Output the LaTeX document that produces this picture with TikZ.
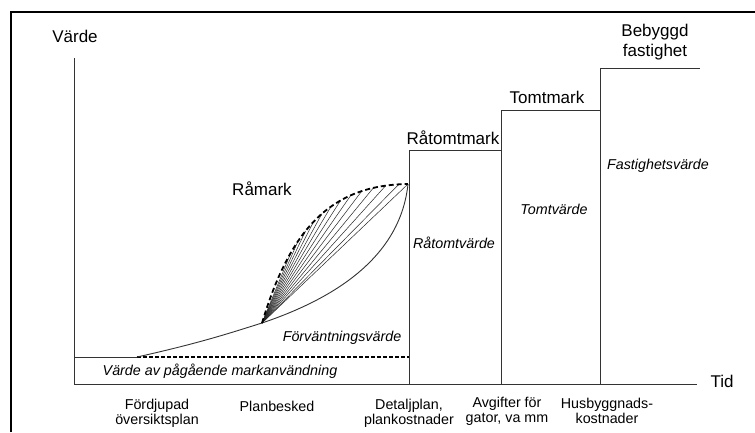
\documentclass[tikz,border=0pt]{standalone}
\usepackage{fontspec}
\setmainfont{Liberation Sans}
\usepackage{tikz}
\usetikzlibrary{calc}
\tikzset{
  stage/.style={inner sep=0pt, align=center, font=\fontsize{17}{20}\selectfont},
  event/.style={inner sep=0pt, align=center, font=\fontsize{14.3}{15}\selectfont},
  worth/.style={inner sep=0pt, font=\fontsize{14.3}{16}\selectfont\itshape},
  thinline/.style={line width=0.9pt, color=black!80},
}

\begin{document}
\begin{tikzpicture}[x=1pt, y=-1pt]
		%%%%% START %%%%%
		\useasboundingbox (0, 0) rectangle (755, 432);
		\fill[white] (0, 0) rectangle (755, 432);
		
		\draw[line width=1.8pt] (11, 432) -- (11, 12) -- (755, 12);
		
		\coordinate (o) at (262, 323);
		\coordinate (a) at (408, 184);
		\coordinate (s) at (137, 357);
		
		\draw[thinline] (74, 58) -- (74, 384) -- (697, 384);
		\draw[thinline] (74, 357) -- (s);
		\draw[line width=1.6pt, dash pattern=on 4pt off 2pt] (s) -- (409, 357);
		
		\draw[thinline] (409, 384) -- (409, 150) -- (501, 150);
		\draw[thinline] (501, 384) -- (501, 110) -- (600, 110);
		\draw[thinline] (600, 384) -- (600, 68) -- (700, 68);
		
		\draw[thinline] (s) .. controls (200, 343) and (230, 333) .. (o);
		\draw[thinline] (o) .. controls (330, 300) and (400, 260) .. (a);
		
		\foreach \p in {0.3,0.36,0.42,0.48,0.54,0.6,0.66,0.72,0.78,0.84,0.9,0.96,1}{
			\path (o) .. controls (290, 230) and (330, 185) .. (a) coordinate[pos=\p] (f);
			\draw[line width=0.5pt, color=black!85] (o) -- (f);
		}
		\draw[line width=1.8pt, dash pattern=on 5pt off 3pt] (o) .. controls (290, 230) and (330, 185) .. (a);
		
		\node[stage] (vardeax) at (75, 36) {Värde};
		\node[stage] (tidax) at (722, 381) {Tid};
		\node[stage] (ramark) at (262, 189) {Råmark};
		\node[stage] (ratomt) at (453, 138) {Råtomtmark};
		\node[stage] (tomt) at (547, 97) {Tomtmark};
		\node[stage] (bebyggd) at (655, 42) {Bebyggd\\fastighet};
		
		\node[worth] (fastv) at (658, 166) {Fastighetsvärde};
		\node[worth] (tomtv) at (554, 209) {Tomtvärde};
		\node[worth] (ratomtv) at (454, 243) {Råtomtvärde};
		\node[worth] (forv) at (342, 338) {Förväntningsvärde};
		\node[worth] (pagaende) at (220, 371) {Värde av pågående markanvändning};
		
		\node[event] (fordjupad) at (157, 413) {Fördjupad\\översiktsplan};
		\node[event] (planbesked) at (277, 406) {Planbesked};
		\node[event] (detaljplan) at (409, 413) {Detaljplan,\\plankostnader};
		\node[event] (avgifter) at (507, 411) {Avgifter för\\gator, va mm};
		\node[event] (husbygg) at (607, 411) {Husbyggnads-\\kostnader};
		
		%%%%% END %%%%%
	\end{tikzpicture}
\end{document}
